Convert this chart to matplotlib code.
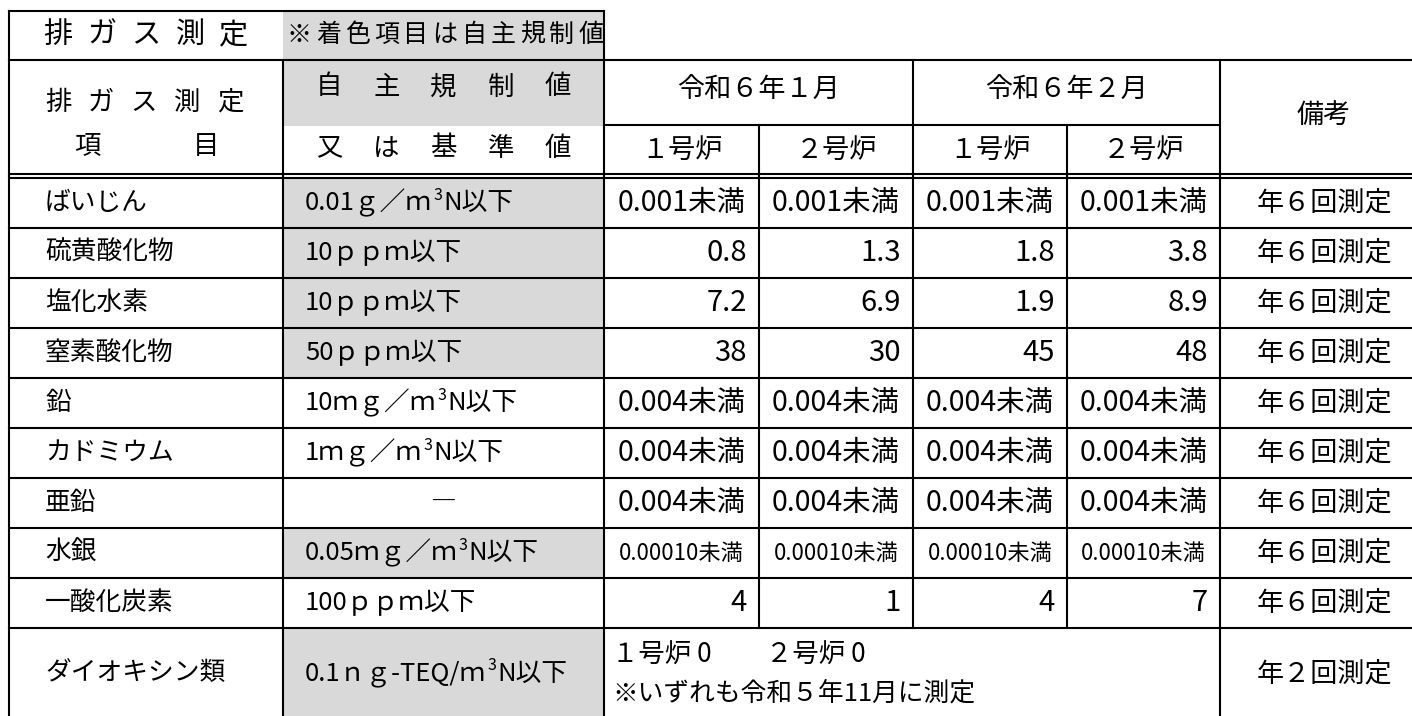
import matplotlib
matplotlib.use("Agg")
import matplotlib.pyplot as plt

plt.rcParams['font.family'] = ['Noto Sans CJK JP', 'DejaVu Sans']

# table data
title = '排ガス測定'
title_note = '※着色項目は自主規制値'
months = ['令和６年１月', '令和６年２月']
furnaces = ['１号炉', '２号炉', '１号炉', '２号炉']

items = ['ばいじん', '硫黄酸化物', '塩化水素', '窒素酸化物', '鉛',
         'カドミウム', '亜鉛', '水銀', '一酸化炭素', 'ダイオキシン類']
limits = ['0.01ｇ／ｍ³N以下', '10ｐｐｍ以下', '10ｐｐｍ以下', '50ｐｐｍ以下',
          '10ｍｇ／ｍ³N以下', '1ｍｇ／ｍ³N以下', '―', '0.05ｍｇ／ｍ³N以下',
          '100ｐｐｍ以下', '0.1ｎｇ-TEQ/ｍ³N以下']
self_regulated = [True, True, True, True, False, False, False, True, False, True]

jan_1 = ['0.001未満', '0.8', '7.2', '38', '0.004未満', '0.004未満',
         '0.004未満', '0.00010未満', '4']
jan_2 = ['0.001未満', '1.3', '6.9', '30', '0.004未満', '0.004未満',
         '0.004未満', '0.00010未満', '1']
feb_1 = ['0.001未満', '1.8', '1.9', '45', '0.004未満', '0.004未満',
         '0.004未満', '0.00010未満', '4']
feb_2 = ['0.001未満', '3.8', '8.9', '48', '0.004未満', '0.004未満',
         '0.004未満', '0.00010未満', '7']
notes = ['年６回測定', '年６回測定', '年６回測定', '年６回測定', '年６回測定',
         '年６回測定', '年６回測定', '年６回測定', '年６回測定', '年２回測定']
dioxin_1 = '１号炉 0'
dioxin_2 = '２号炉 0'
dioxin_note = '※いずれも令和５年11月に測定'

# layout in pixels
W, H = 1412, 716
L, C1, C2 = 9, 283, 604
cols = [604, 759, 913, 1067, 1220]
R = 1428
y_top, y_head, y_mid, y_d1, y_d2 = 11, 60, 125, 174, 178
row_h = 50
n_std = len(jan_1)
row_y = [y_d2 + i * row_h for i in range(n_std + 1)]
y_bot = 719
grey = '#d9d9d9'
lw = 1.5

fig = plt.figure(figsize=(W / 100, H / 100), dpi=100)
ax = fig.add_axes([0, 0, 1, 1])
ax.set_xlim(0, W)
ax.set_ylim(H, 0)
ax.axis('off')
renderer = fig.canvas.get_renderer()


def fill(x0, x1, y0, y1):
    ax.fill_between([x0, x1], y0, y1, color=grey, lw=0, zorder=0)


def hline(y, x0, x1):
    ax.plot([x0, x1], [y, y], color='black', lw=lw, solid_capstyle='projecting')


def vline(x, y0, y1):
    ax.plot([x, x], [y0, y1], color='black', lw=lw, solid_capstyle='projecting')


def spread(text, x0, x1, y, size):
    n = len(text)
    for i, ch in enumerate(text):
        ax.text(x0 + (x1 - x0) * i / (n - 1), y, ch, ha='center', va='center',
                fontsize=size)


def with_sup(x, y, s, size):
    # draw "...ｍ³N以下" with a real raised 3
    parts = s.split('³')
    t = ax.text(x, y, parts[0], ha='left', va='center', fontsize=size)
    if len(parts) == 1:
        return
    bb = t.get_window_extent(renderer)
    t2 = ax.text(bb.x1 + 1, y - 8, '3', ha='left', va='center', fontsize=size * 0.62)
    bb2 = t2.get_window_extent(renderer)
    ax.text(bb2.x1 + 1, y, parts[1], ha='left', va='center', fontsize=size)


# grey cells
fill(C1, C2, y_top, y_head)
fill(C1, C2, y_head, y_mid + 1)
for i, flag in enumerate(self_regulated):
    if flag:
        y1 = row_y[i + 1] if i < n_std else y_bot
        fill(C1, C2, row_y[i], y1)

# grid
hline(y_top, L, C2)
hline(y_head, L, R)
hline(y_mid, cols[0], cols[4])
hline(y_d1, L, R)
hline(y_d2, L, R)
for y in row_y[1:]:
    hline(y, L, R)
vline(L, y_top, y_bot)
vline(C2, y_top, y_bot)
vline(C1, y_head, y_bot)
vline(cols[2], y_head, row_y[-1])
vline(cols[1], y_mid, row_y[-1])
vline(cols[3], y_mid, row_y[-1])
vline(cols[4], y_head, y_bot)

# title row
spread(title, 58, 234, 35, 21)
spread(title_note, 299, 591, 35, 18)

# header
spread(title, 58, 230, 102, 19)
spread('項目', 87, 206, 146, 19)
spread('自主規制値', 329, 558, 87, 19)
spread('又は基準値', 329, 558, 148, 19)
for k, m in enumerate(months):
    ax.text((cols[2 * k] + cols[2 * k + 2]) / 2, 90, m, ha='center', va='center',
            fontsize=19.5)
for k, f in enumerate(furnaces):
    ax.text((cols[k] + cols[k + 1]) / 2, 150, f, ha='center', va='center',
            fontsize=19.5)
ax.text((cols[4] + R) / 2, 115, '備考', ha='center', va='center', fontsize=19.5)

# body
values = [jan_1, jan_2, feb_1, feb_2]
for i, name in enumerate(items):
    y0 = row_y[i]
    y1 = row_y[i + 1] if i < n_std else y_bot
    yc = (y0 + y1) / 2
    ax.text(45, yc, name, ha='left', va='center', fontsize=18.5)
    lim = limits[i]
    if lim == '―':
        ax.text((C1 + C2) / 2, yc, lim, ha='center', va='center', fontsize=18.5)
    else:
        with_sup(305, yc, lim, 18.5)
    ax.text((cols[4] + R) / 2, yc, notes[i], ha='center', va='center', fontsize=19.5)
    if i >= n_std:
        continue
    for k, col in enumerate(values):
        v = col[i]
        if v.endswith('未満'):
            size = 16 if v.startswith('0.0001') else 20.5
            ax.text((cols[k] + cols[k + 1]) / 2, yc, v, ha='center', va='center',
                    fontsize=size)
        else:
            ax.text(cols[k + 1] - 12, yc, v, ha='right', va='center', fontsize=21)

# dioxin row
ax.text(612, 655, dioxin_1, ha='left', va='center', fontsize=19)
ax.text(766, 655, dioxin_2, ha='left', va='center', fontsize=19)
ax.text(612, 694, dioxin_note, ha='left', va='center', fontsize=18.5)

fig.savefig('out.png', dpi=100)
